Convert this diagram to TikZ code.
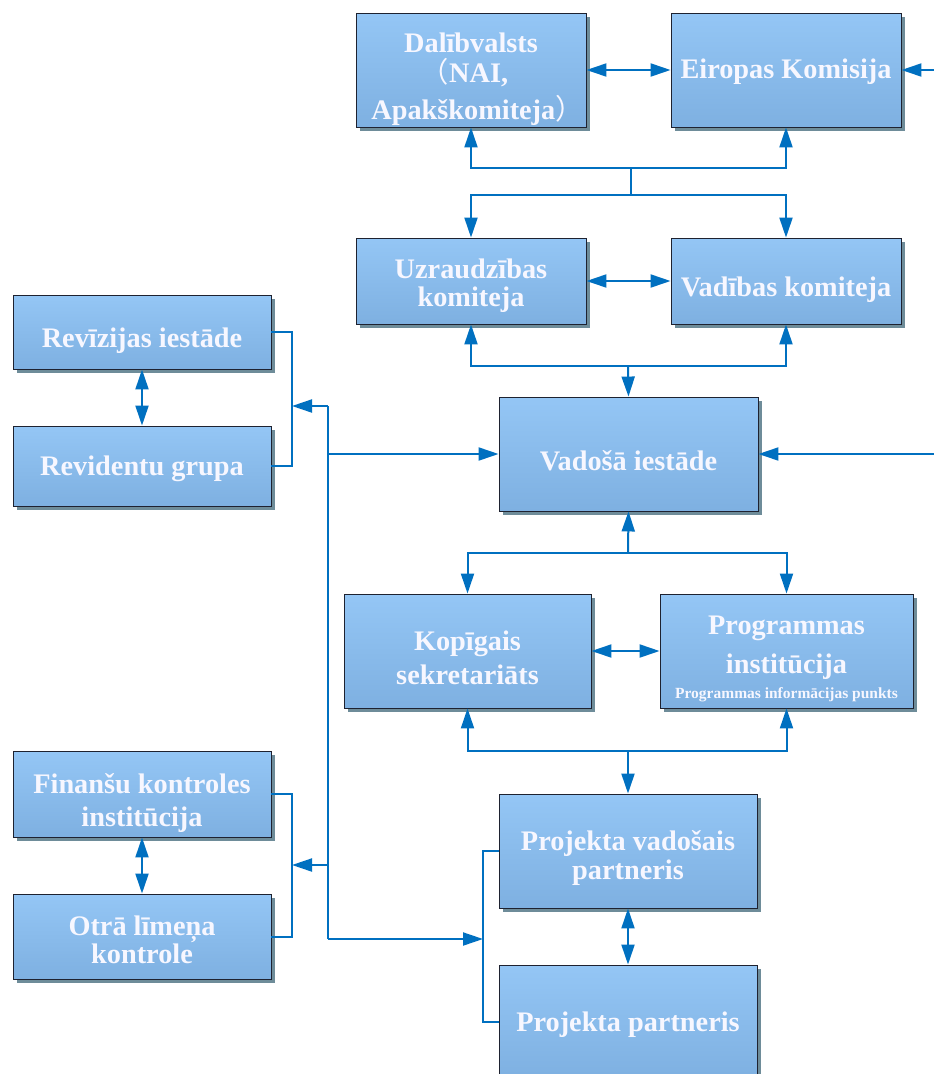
\documentclass[tikz,border=0pt]{standalone}
\usepackage{fontspec}
\setmainfont{Liberation Serif}
\newfontfamily\cjk{Noto Sans CJK SC}
\usetikzlibrary{arrows.meta,shadows}
\definecolor{lnblue}{HTML}{0070C0}
\definecolor{boxtop}{HTML}{94C6F5}
\definecolor{boxbot}{HTML}{7EB0E1}
\definecolor{shad}{HTML}{6E8C99}
\definecolor{bord}{HTML}{1E2230}
\begin{document}
\begin{tikzpicture}[x=1pt,y=-1pt,
 box/.style={draw=bord, line width=0.9pt, top color=boxtop, bottom color=boxbot,
   inner sep=0pt,
   drop shadow={shadow xshift=3.5pt, shadow yshift=-3.5pt, fill=shad, opacity=1, draw=none}},
 wbox/.style={box, minimum width=258pt},
 lbl/.style={inner sep=0pt, align=center, text=white!97!blue,
   font=\bfseries\fontsize{28.3}{#1}\selectfont},
 lbl/.default=31,
 conn/.style={draw=lnblue, line width=2pt},
 arr/.style={conn, -{Triangle[length=20pt,width=13pt]}},
 darr/.style={conn, {Triangle[length=20pt,width=13pt]}-{Triangle[length=20pt,width=13pt]}}
]
\useasboundingbox (0,0) rectangle (934,1074);
\fill[white] (0,0) rectangle (934,1074);

% boxes
\node[box, minimum width=230pt, minimum height=114pt] (dal) at (471,70) {};
\node[box, minimum width=230pt, minimum height=114pt] (ek) at (786,70) {};
\node[box, minimum width=230pt, minimum height=86pt] (uzr) at (471,281) {};
\node[box, minimum width=230pt, minimum height=86pt] (vadk) at (786,281) {};
\node[box, minimum width=259pt, minimum height=114pt] (vi) at (628.5,454) {};
\node[wbox, minimum height=74pt] (rev) at (142,332) {};
\node[wbox, minimum height=80pt] (revg) at (142,466) {};
\node[box, minimum width=247pt, minimum height=114pt] (ks) at (467.5,651) {};
\node[box, minimum width=253pt, minimum height=114pt] (pi) at (786.5,651) {};
\node[wbox, minimum height=86pt] (fin) at (142,794) {};
\node[wbox, minimum height=85pt] (otr) at (142,936.5) {};
\node[wbox, minimum height=114pt] (pvp) at (628,851) {};
\node[wbox, minimum height=114pt] (pp) at (628,1022) {};

% texts
\node[lbl=30] (dal-t) at ([yshift=-9pt]dal.center)
  {Dalībvalsts\\{\cjk\mdseries\kern-13pt （}NAI,\\[7pt]Apakškomiteja{\cjk\mdseries ）\kern-13pt}};
\node[lbl] (ek-t) at ([yshift=-2pt]ek.center) {Eiropas Komisija};
\node[lbl=28] (uzr-t) at ([yshift=-5pt]uzr.center) {Uzraudzības\\komiteja};
\node[lbl] (vadk-t) at ([yshift=-9pt]vadk.center) {Vadības komiteja};
\node[lbl] (vi-t) at ([yshift=-7pt]vi.center) {Vadošā iestāde};
\node[lbl] (rev-t) at ([yshift=-9pt]rev.center) {Revīzijas iestāde};
\node[lbl] (revg-t) at ([yshift=-3pt]revg.center) {Revidentu grupa};
\node[lbl=34] (ks-t) at ([yshift=-7pt]ks.center) {Kopīgais\\sekretariāts};
\node[lbl=39] (pi-t) at ([yshift=-8pt]pi.center)
  {Programmas\\institūcija\\[-14pt]{\fontsize{15.5}{18}\selectfont Programmas informācijas punkts}};
\node[lbl=33] (fin-t) at ([yshift=-9pt]fin.center) {Finanšu kontroles\\institūcija};
\node[lbl=28] (otr-t) at ([yshift=-3pt]otr.center) {Otrā līmeņa\\kontrole};
\node[lbl=29] (pvp-t) at ([yshift=-7pt]pvp.center) {Projekta vadošais\\partneris};
\node[lbl] (pp-t) at ([yshift=-3pt]pp.center) {Projekta partneris};

% junction coordinates
\coordinate (r1) at (934,70);
\coordinate (r2) at (934,454);
\coordinate (j1) at (631,168);
\coordinate (j2) at (631,195);
\coordinate (j3) at (628,366);
\coordinate (j4) at (628,553);
\coordinate (j5) at (628,751);
\coordinate (b1) at (328,406);
\coordinate (bv) at (328,454);
\coordinate (bf) at (328,865);
\coordinate (b2) at (328,939);
\coordinate (ra) at (292,406);
\coordinate (fa) at (292,865);
\coordinate (pa) at (483,939);

% top level
\draw[darr] (dal.east) -- (ek.west);
\draw[arr] (r1) -- (ek.east);
\draw[arr] (j1) -| (dal.south);
\draw[arr] (j1) -| (ek.south);
\draw[conn] (j1) -- (j2);
\draw[arr] (j2) -| (uzr.north);
\draw[arr] (j2) -| (vadk.north);
\draw[darr] (uzr.east) -- (vadk.west);
\draw[arr] (j3) -| (uzr.south);
\draw[arr] (j3) -| (vadk.south);
\draw[arr] (j3) -- (vi.north);
\draw[arr] (r2) -- (vi.east);

% left bus
\draw[conn] (b1) -- (b2);
\draw[arr] (bv) -- (vi.west);
\draw[arr] (b1) -- (ra);
\draw[arr] (bf) -- (fa);
\draw[arr] (b2) -- (pa);

% brackets
\draw[conn] (rev.east) -- ++(21,0) |- (revg.east);
\draw[conn] (fin.east) -- ++(21,0) |- (otr.east);
\draw[conn] (pvp.west) -- ++(-16,0) |- (pp.west);
\draw[darr] (rev.south) -- (revg.north);
\draw[darr] (fin.south) -- (otr.north);

% lower level
\draw[arr] (j4) -- (vi.south);
\draw[arr] (j4) -| (ks.north);
\draw[arr] (j4) -| (pi.north);
\draw[darr] (ks.east) -- (pi.west);
\draw[arr] (j5) -| (ks.south);
\draw[arr] (j5) -| (pi.south);
\draw[arr] (j5) -- (pvp.north);
\draw[darr] (pvp.south) -- (pp.north);
\end{tikzpicture}
\end{document}
